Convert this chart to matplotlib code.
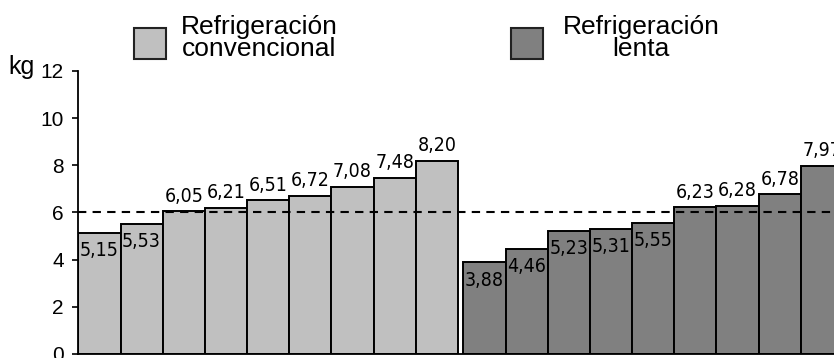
import matplotlib
matplotlib.use("Agg")
import matplotlib.pyplot as plt
from matplotlib.patches import Rectangle
import numpy as np

plt.rcParams['font.family'] = ['Liberation Sans', 'DejaVu Sans']

# Weight per batch (kg) for each cooling method
convencional = [5.15, 5.53, 6.05, 6.21, 6.51, 6.72, 7.08, 7.48, 8.20]
lenta = [3.88, 4.46, 5.23, 5.31, 5.55, 6.23, 6.28, 6.78, 7.97]
series_names = ["Refrigeración\nconvencional", "Refrigeración\nlenta"]
series_colors = ["#c0c0c0", "#808080"]
reference_level = 6
y_ticks = [0, 2, 4, 6, 8, 10, 12]
y_unit = "kg"

fig = plt.figure(figsize=(8.34, 3.58), dpi=100)
ax = fig.add_axes([0.0939, 0.0112, 0.941, 0.7905])

group_gap = 0.125
x1 = np.arange(len(convencional), dtype=float)
x2 = len(convencional) + group_gap + np.arange(len(lenta), dtype=float)

label_style = dict(textcoords='offset points', ha='center', fontsize=14,
                   family='DejaVu Sans', fontstretch='condensed', zorder=4)

for xs, vals, color in ((x1, convencional, series_colors[0]),
                        (x2, lenta, series_colors[1])):
    ax.bar(xs, vals, width=1.0, align='edge', color=color,
           edgecolor='black', linewidth=1.4, zorder=2)
    for x, v in zip(xs, vals):
        label = f"{v:.2f}".replace('.', ',')
        if v < reference_level:
            ax.annotate(label, (x + 0.5, v), xytext=(0, -6), va='top',
                        **label_style)
        else:
            ax.annotate(label, (x + 0.5, v), xytext=(0, 4), va='bottom',
                        **label_style)

ax.axhline(reference_level, color='black', linewidth=1.5,
           linestyle=(0, (4, 3)), zorder=3)

ax.set_xlim(0, 18.6)
ax.set_ylim(0, 12)
ax.set_yticks(y_ticks)
ax.set_xticks([])
ax.tick_params(axis='y', direction='out', length=4.5, width=1.2,
               labelsize=15, pad=6)
for side in ('top', 'right'):
    ax.spines[side].set_visible(False)
ax.spines['left'].set_linewidth(1.3)
ax.spines['bottom'].set_linewidth(1.3)

fig.text(8 / 834, (358 - 74) / 358, y_unit, fontsize=18,
         ha='left', va='baseline')

# Legend drawn as swatches with centred two-line captions
legend_boxes = [(134, 181), (511, 563)]
for (bx, tx), name, color in zip(legend_boxes, series_names, series_colors):
    fig.patches.append(Rectangle((bx / 834, (358 - 59) / 358), 32 / 834,
                                 31 / 358, transform=fig.transFigure,
                                 facecolor=color, edgecolor='#222222',
                                 linewidth=1.5))
    fig.text(tx / 834, (358 - 38) / 358, name, fontsize=19, ha='left',
             va='center', multialignment='center', linespacing=0.85)

fig.savefig("out.png", dpi=100)
